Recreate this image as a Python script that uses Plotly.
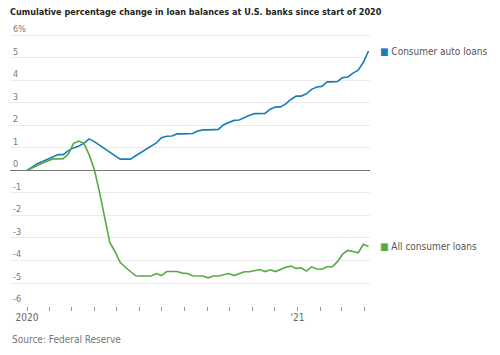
import plotly.graph_objects as go
import pandas as pd

dates = pd.date_range("2020-01-01", periods=67, freq="7D")

auto_loans = [0, 0.17, 0.3, 0.4, 0.5, 0.6, 0.7, 0.7, 0.88, 1.0,
              1.08, 1.2, 1.4, 1.28, 1.12, 0.98, 0.82, 0.66, 0.5, 0.5,
              0.5, 0.65, 0.8, 0.92, 1.08, 1.22, 1.45, 1.52, 1.53, 1.62,
              1.62, 1.62, 1.64, 1.75, 1.8, 1.8, 1.8, 1.82, 2.03, 2.12,
              2.22, 2.24, 2.35, 2.45, 2.52, 2.52, 2.53, 2.72, 2.81, 2.82,
              2.95, 3.15, 3.3, 3.3, 3.4, 3.6, 3.7, 3.73, 3.93, 3.93,
              3.95, 4.12, 4.15, 4.32, 4.45, 4.8, 5.3]

all_consumer = [0, 0.12, 0.22, 0.33, 0.42, 0.51, 0.51, 0.52, 0.73, 1.2,
                1.3, 1.2, 0.7, 0.05, -0.95, -2.1, -3.2, -3.6, -4.08, -4.3,
                -4.5, -4.68, -4.69, -4.69, -4.69, -4.58, -4.67, -4.49, -4.49, -4.49,
                -4.56, -4.58, -4.68, -4.69, -4.69, -4.77, -4.69, -4.69, -4.64, -4.58,
                -4.67, -4.57, -4.5, -4.5, -4.46, -4.4, -4.49, -4.41, -4.49, -4.4,
                -4.3, -4.25, -4.35, -4.32, -4.47, -4.28, -4.38, -4.39, -4.28, -4.28,
                -4.05, -3.72, -3.55, -3.6, -3.66, -3.28, -3.38]

series_names = ["Consumer auto loans", "All consumer loans"]
series_colors = ["#1a7db8", "#58a844"]

y_ticks = [6, 5, 4, 3, 2, 1, 0, -1, -2, -3, -4, -5, -6]
y_tick_text = ["6%", "5", "4", "3", "2", "1", "0", "-1", "-2", "-3", "-4", "-5", "-6"]

x_ticks = pd.date_range("2020-01-01", "2021-04-01", freq="MS")
x_tick_text = ["2020" if d == pd.Timestamp("2020-01-01") else ("'21" if d == pd.Timestamp("2021-01-01") else "") for d in x_ticks]

title = "Cumulative percentage change in loan balances at U.S. banks since start of 2020"
source = "Source: Federal Reserve"

font = "Liberation Sans Narrow, DejaVu Sans Condensed, sans-serif"

fig = go.Figure()
for name, vals, col in zip(series_names, [auto_loans, all_consumer], series_colors):
    fig.add_trace(go.Scatter(x=dates, y=vals, mode="lines", name=name,
                             line=dict(color=col, width=1.6), showlegend=False,
                             hoverinfo="skip"))
    fig.add_annotation(x=1.0, xref="paper", y=vals[-1], yref="y",
                       xanchor="left", yanchor="middle", xshift=8, showarrow=False,
                       text=f"<span style='color:{col}'>■</span> {name}",
                       font=dict(family=font, size=10, color="#555555"))

fig.update_layout(
    width=500, height=355,
    margin=dict(l=10, r=130, t=24, b=49, autoexpand=False),
    plot_bgcolor="white", paper_bgcolor="white",
    font=dict(family=font, color="#666666"),
    title=dict(text=f"<b>{title}</b>", x=0.02, xanchor="left", y=1 - 12 / 355, yanchor="middle",
               font=dict(family=font, size=9, color="#222222")),
    xaxis=dict(range=["2019-12-09", "2021-04-09"], tickvals=x_ticks, ticktext=x_tick_text,
               ticks="outside", ticklen=4, tickcolor="#999999", showgrid=False,
               showline=False, zeroline=False, automargin=False, ticklabelstandoff=-2,
               tickfont=dict(size=10, color="#666666")),
    yaxis=dict(range=[-6.02, 6.5], tickvals=y_ticks, ticktext=y_tick_text,
               ticklabelposition="inside top", showgrid=True, gridcolor="#ebebeb",
               gridwidth=1, zeroline=True, zerolinecolor="#777777", zerolinewidth=1,
               automargin=False,
               ticks="", tickfont=dict(size=9, color="#777777")),
)
fig.add_annotation(x=0, xref="paper", y=-(339 - 306) / 281.5, yref="paper", xanchor="left",
                   yanchor="middle", text=source, showarrow=False,
                   font=dict(family=font, size=10, color="#777777"))
fig.write_html("out.html", config={"displayModeBar": False},
               post_script="document.body.style.margin='0px';")
